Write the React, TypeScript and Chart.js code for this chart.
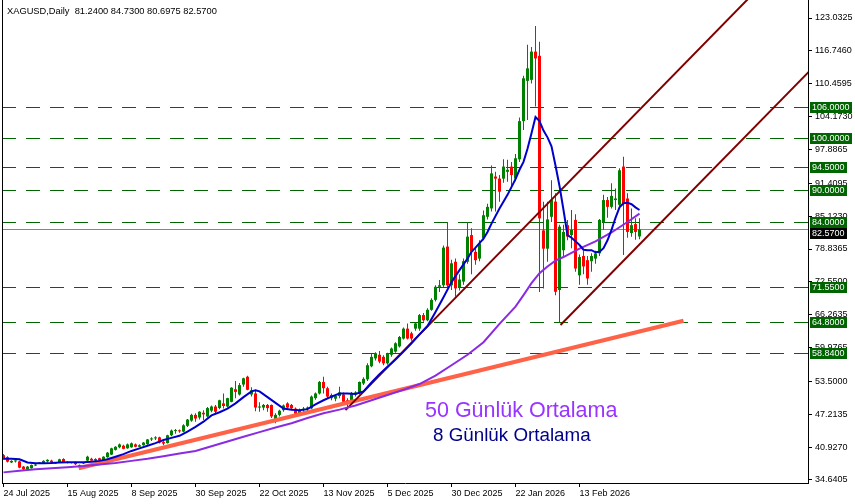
import { useEffect, useRef } from 'react';
import { Chart, registerables } from 'chart.js';

Chart.register(...registerables);

// ---------- data ----------
const symbolName = 'XAGUSD';
const timeframeName = 'Daily';

const opens = [
  39.4, 39.0, 38.0, 38.2, 38.2, 37.2, 36.6, 36.9, 37.4, 37.8,
  37.8, 38.2, 38.35, 37.8, 37.96, 38.65, 37.9, 37.9, 38.1, 37.2,
  37.8, 38.35, 38.7, 38.35, 38.8, 38.47, 39.0, 39.5, 40.4, 40.9,
  41.2, 40.7, 40.9, 41.45, 41.0, 41.3, 41.5, 42.4, 42.6, 42.8,
  41.9, 41.7, 43.2, 44.0, 44.1, 43.9, 45.0, 46.0, 47.1, 46.6,
  47.5, 46.8, 47.9, 48.7, 48.4, 49.3, 48.7, 49.6, 52.0, 51.0,
  52.9, 54.4, 51.0, 51.2, 48.5, 48.5, 49.0, 49.0, 46.2, 47.1,
  48.0, 49.3, 49.0, 48.3, 47.3, 48.0, 48.2, 48.35, 50.3, 51.2,
  53.4, 52.2, 50.3, 50.2, 50.7, 51.0, 49.9, 49.6, 51.0, 51.2,
  53.1, 53.9, 56.4, 57.9, 58.6, 58.2, 56.95, 58.6, 59.2, 60.2,
  61.7, 63.6, 62.7, 63.6, 63.6, 66.2, 65.2, 67.2, 69.1, 71.6,
  71.9, 79.3, 71.9, 76.4, 71.5, 72.6, 76.4, 81.5, 78.3, 77.0,
  80.9, 85.0, 86.6, 92.7, 92.3, 92.3, 93.6, 94.6, 92.3, 96.0,
  103.3, 111.0, 111.2, 116.6, 115.8, 82.4, 78.9, 85.0, 87.9, 71.0,
  78.6, 83.4, 81.5, 84.4, 73.8, 77.5, 76.7, 76.5, 77.0, 78.0,
  84.0, 88.2, 86.9, 88.2, 87.3, 94.6, 88.5, 81.9, 83.6, 81.24,
];
const highs = [
  39.6, 39.2, 38.4, 38.4, 38.3, 37.3, 37.3, 37.6, 37.8, 38.1,
  38.4, 38.6, 38.5, 38.1, 38.7, 38.8, 38.2, 38.1, 38.2, 37.6,
  38.1, 39.3, 38.9, 38.8, 38.9, 39.2, 40.0, 40.8, 41.1, 41.6,
  41.4, 41.6, 41.8, 41.6, 41.5, 41.9, 42.5, 42.8, 43.0, 42.9,
  42.2, 43.3, 44.3, 44.4, 44.3, 45.3, 46.3, 47.3, 47.4, 47.8,
  48.0, 48.6, 48.9, 49.0, 50.0, 51.2, 50.4, 52.4, 53.6, 53.2,
  54.2, 54.6, 52.4, 51.9, 49.5, 49.2, 49.2, 49.1, 47.4, 48.1,
  49.1, 49.5, 49.2, 48.5, 48.3, 48.6, 48.7, 50.8, 51.4, 53.6,
  54.4, 52.5, 51.2, 50.9, 52.5, 51.4, 50.3, 51.5, 51.6, 53.5,
  54.3, 57.0, 58.8, 59.1, 59.3, 58.5, 59.0, 60.0, 61.0, 62.2,
  63.8, 64.6, 63.0, 64.8, 66.4, 66.6, 67.5, 69.4, 71.9, 72.9,
  79.5, 84.0, 76.8, 77.0, 74.0, 77.0, 84.0, 82.8, 79.0, 80.5,
  86.2, 87.5, 94.8, 93.6, 93.0, 96.0, 95.9, 95.5, 97.0, 104.0,
  112.0, 117.9, 117.5, 121.5, 118.5, 87.9, 87.9, 92.0, 89.5, 83.5,
  83.5, 84.4, 86.3, 85.5, 77.8, 78.5, 77.5, 78.0, 78.5, 84.6,
  89.2, 88.8, 91.4, 90.4, 94.3, 96.5, 89.5, 86.6, 84.7, 84.73,
];
const lows = [
  38.5, 38.0, 37.9, 38.0, 36.9, 36.5, 36.4, 36.8, 37.3, 37.7,
  37.7, 38.0, 37.9, 37.7, 37.9, 37.9, 37.8, 37.8, 37.5, 37.1,
  37.7, 38.2, 38.3, 38.2, 38.3, 38.4, 38.9, 39.4, 40.3, 40.7,
  40.5, 40.6, 40.8, 40.9, 40.9, 41.2, 41.4, 42.1, 42.3, 41.6,
  41.3, 41.6, 43.0, 43.5, 43.7, 43.8, 44.8, 45.8, 45.8, 46.2,
  46.1, 46.6, 47.6, 47.4, 48.2, 48.3, 48.5, 49.5, 50.3, 50.8,
  52.5, 51.8, 50.6, 47.8, 47.7, 48.0, 47.7, 46.5, 45.5, 46.8,
  47.7, 48.3, 48.1, 46.9, 47.0, 47.6, 47.8, 48.2, 50.0, 51.0,
  51.2, 50.2, 49.9, 49.7, 50.3, 49.4, 48.6, 49.4, 50.6, 51.0,
  52.8, 53.6, 56.2, 57.5, 57.0, 56.6, 56.7, 58.2, 59.0, 60.0,
  61.5, 61.5, 61.3, 63.2, 63.2, 64.9, 65.0, 67.0, 68.8, 70.6,
  71.5, 71.5, 71.0, 69.7, 70.9, 72.0, 76.0, 74.0, 75.8, 76.5,
  80.5, 84.5, 86.0, 86.0, 87.9, 91.5, 91.7, 90.4, 91.8, 95.5,
  101.6, 103.5, 110.5, 106.1, 70.6, 71.3, 76.4, 84.0, 70.0, 64.8,
  77.5, 80.5, 79.0, 74.5, 72.0, 74.0, 72.0, 74.5, 76.0, 77.5,
  82.5, 84.8, 86.6, 86.3, 87.0, 77.7, 81.0, 81.2, 80.6, 80.6975,
];
const closes = [
  38.7, 38.15, 38.3, 38.3, 37.0, 36.7, 37.2, 37.5, 37.6, 38.0,
  38.3, 38.5, 37.96, 38.0, 38.6, 38.0, 38.1, 38.0, 37.65, 37.5,
  37.95, 39.1, 38.35, 38.65, 38.35, 39.1, 39.87, 40.7, 41.0, 41.45,
  40.6, 41.45, 41.66, 41.0, 41.3, 41.8, 42.4, 42.6, 42.8, 41.8,
  41.6, 43.2, 44.1, 44.1, 43.95, 45.1, 46.2, 47.1, 46.4, 47.7,
  47.2, 48.4, 48.7, 47.7, 49.9, 48.8, 50.3, 52.3, 51.5, 52.8,
  54.1, 51.9, 51.8, 48.5, 48.7, 49.0, 48.4, 46.8, 47.1, 47.9,
  48.9, 48.5, 48.35, 47.3, 48.0, 48.3, 48.5, 50.6, 51.2, 53.4,
  52.2, 50.6, 50.9, 50.7, 51.4, 49.6, 49.3, 51.3, 51.4, 53.4,
  54.0, 56.6, 58.2, 58.9, 57.3, 56.95, 58.9, 59.8, 60.8, 62.0,
  63.6, 61.7, 61.7, 64.6, 66.2, 65.2, 67.2, 69.1, 71.6, 71.9,
  79.1, 71.9, 76.1, 71.3, 73.0, 76.5, 81.2, 78.3, 76.7, 79.9,
  85.3, 86.9, 93.3, 92.3, 89.8, 94.6, 94.0, 93.0, 96.2, 103.3,
  111.5, 113.4, 116.6, 115.3, 84.7, 78.9, 84.5, 88.2, 70.65, 83.1,
  82.1, 81.2, 82.5, 75.1, 77.3, 75.5, 73.2, 77.5, 78.0, 84.4,
  88.2, 86.9, 89.0, 88.5, 93.9, 87.5, 82.1, 83.4, 82.1, 82.57,
];

// 8-day moving average (blue)
const ma8Idx = [0, 2, 4, 6, 8, 10, 12, 14, 16, 18, 20, 22, 24, 26, 28, 30, 32, 34, 36, 38,
  40, 42, 44, 46, 48, 50, 52, 54, 56, 58, 60, 62, 63, 64, 66, 68, 70, 72, 74, 76,
  78, 80, 82, 84, 86, 88, 90, 92, 94, 96, 98, 100, 102, 104, 106, 108, 110, 112, 114, 116,
  117, 118, 120, 121, 122, 124, 126, 128, 129, 130, 131, 132, 133, 134, 135, 136, 137, 138, 139, 140,
  141, 142, 143, 144, 145, 146, 147, 148, 149, 150, 151, 152, 153, 154, 155, 156, 157, 158, 159];
const ma8Values = [38.7, 38.7, 38.6, 38.0, 37.85, 37.84, 37.9, 38.0, 38.03, 38.05, 38.05, 38.15, 38.3, 38.6, 39.1, 39.6, 40.2, 40.7, 41.2, 41.7,
  42.3, 42.7, 43.1, 43.9, 44.8, 45.8, 47.0, 47.6, 48.3, 49.3, 50.5, 51.6, 51.8, 51.6, 50.5, 49.4, 48.3, 48.1, 48.0, 48.2,
  49.1, 49.9, 50.6, 51.2, 51.2, 51.1, 51.6, 53.3, 54.9, 56.3, 57.7, 59.2, 60.8, 62.5, 64.1, 66.8, 69.6, 72.5, 74.8, 77.0,
  78.3, 79.1, 80.8, 82.1, 83.7, 86.6, 89.2, 92.2, 94.0, 95.5, 98.0, 101.0, 104.1, 103.3, 101.5, 100.2, 98.5, 94.8, 90.9, 86.3,
  81.5, 81.0, 80.3, 79.6, 78.7, 78.6, 78.6, 78.2, 78.3, 79.0, 80.5, 82.5, 84.8, 86.8, 87.6, 87.7, 87.4, 86.8, 86.3];

// 50-day moving average (purple)
const ma50Idx = [0, 4, 8, 12, 16, 20, 24, 28, 32, 36, 40, 44, 48, 52, 56, 60, 64, 68, 72, 76,
  80, 84, 88, 92, 96, 100, 104, 108, 112, 116, 120, 124, 128, 130, 132, 134, 136, 138, 140, 144,
  148, 152, 156, 159];
const ma50Values = [36.1, 36.4, 36.7, 36.9, 37.1, 37.3, 37.6, 37.9, 38.3, 38.7, 39.2, 39.7, 40.2, 41.1, 42.0, 42.9, 43.8, 44.7, 45.5, 46.5,
  47.4, 48.1, 48.9, 49.9, 50.9, 51.9, 53.0, 54.6, 56.6, 58.6, 61.0, 64.5, 67.8, 70.0, 72.3, 74.2, 75.5, 76.6, 77.3, 78.9,
  80.3, 82.0, 84.0, 85.6];

const xTickIdx = [0, 16, 32, 48, 64, 80, 96, 112, 128, 144];
const xTickLabels = ['24 Jul 2025', '15 Aug 2025', '8 Sep 2025', '30 Sep 2025', '22 Oct 2025',
  '13 Nov 2025', '5 Dec 2025', '30 Dec 2025', '22 Jan 2026', '13 Feb 2026'];
const yTickValues = [34.6405, 40.927, 47.2135, 53.5, 59.9765, 66.2635, 72.55, 78.8365, 85.123,
  91.4095, 97.8865, 104.173, 110.4595, 116.746, 123.0325];

const levelValues = [106, 100, 94.5, 90, 84, 71.55, 64.8, 58.84];
const currentPrice = 82.57;

const tomatoLineX = [18.8, 170];
const tomatoLineY = [36.9, 65.1];
const channelUpperX = [85.5, 190];
const channelUpperY = [48.0, 129.7];
const channelLowerX = [139.25, 215];
const channelLowerY = [64.3, 123.4];

const ma50Label = '50 Günlük Ortalama';
const ma8Label = '8 Günlük Ortalama';

// ---------- styles ----------
const X_MIN = -0.375;
const X_MAX = 201.125;
const Y_MIN = 34.0665;
const Y_MAX = 126.4765;
const FONT = '"Liberation Sans", Arial, sans-serif';
const BULL = '#008000';
const BEAR = '#ff0000';
const LEVEL_COLOR = '#006400';
const PRICE_LINE = '#778899';
const TOMATO = '#ff6347';
const MAROON = '#800000';
const MA50_COLOR = '#8a2be2';
const MA8_COLOR = '#0000cd';
const MA50_TEXT = '#9933ff';
const MA8_TEXT = '#00008b';

const overlayPlugin = {
  id: 'mtOverlay',
  afterDraw(chart: any) {
    const { ctx, chartArea, scales } = chart;
    const ys = scales.y;
    const n = closes.length;
    ctx.save();
    ctx.strokeStyle = '#000';
    ctx.lineWidth = 1;
    ctx.beginPath();
    ctx.moveTo(chartArea.left + 0.5, chartArea.top);
    ctx.lineTo(chartArea.left + 0.5, chartArea.bottom + 1);
    ctx.stroke();

    const title = `${symbolName},${timeframeName}  ` +
      [opens[n - 1], highs[n - 1], lows[n - 1], closes[n - 1]].map((v) => v.toFixed(4)).join(' ');
    ctx.fillStyle = '#000';
    ctx.font = `9.3px ${FONT}`;
    ctx.textAlign = 'left';
    ctx.textBaseline = 'alphabetic';
    ctx.fillText(title, 7, 14);

    ctx.font = `21.5px ${FONT}`;
    ctx.fillStyle = MA50_TEXT;
    ctx.fillText(ma50Label, 425, 416.5);
    ctx.font = `18.8px ${FONT}`;
    ctx.fillStyle = MA8_TEXT;
    ctx.fillText(ma8Label, 433, 441);

    const boxes = levelValues
      .map((v) => ({ v, bg: LEVEL_COLOR }))
      .concat([{ v: currentPrice, bg: '#000' }])
      .map((b) => ({ ...b, yc: ys.getPixelForValue(b.v) }))
      .sort((a, b) => a.yc - b.yc);
    ctx.font = `9px ${FONT}`;
    ctx.textBaseline = 'middle';
    let prevBottom = -Infinity;
    const bh = 11;
    for (const b of boxes) {
      let top = Math.round(b.yc - bh / 2);
      if (top < prevBottom) top = prevBottom;
      const label = b.v.toFixed(4);
      const w = Math.ceil(ctx.measureText(label).width) + 4;
      const x0 = chartArea.right + 2;
      ctx.fillStyle = b.bg;
      ctx.fillRect(x0, top, w, bh);
      ctx.fillStyle = '#fff';
      ctx.fillText(label, x0 + 2, top + bh / 2 + 0.5);
      prevBottom = top + bh;
    }
    ctx.restore();
  },
};

export default function App() {
  const canvasRef = useRef<HTMLCanvasElement | null>(null);

  useEffect(() => {
    const canvas = canvasRef.current;
    if (!canvas) return;
    const idx = closes.map((_, i) => i);
    const candleColors = idx.map((i) => (closes[i] >= opens[i] ? BULL : BEAR));

    const line = (xs: number[], ys: number[], color: string, width: number, order: number) => ({
      type: 'line',
      data: xs.map((x, k) => ({ x, y: ys[k] })),
      borderColor: color,
      backgroundColor: color,
      borderWidth: width,
      borderCapStyle: 'butt',
      pointRadius: 0,
      pointHoverRadius: 0,
      tension: 0,
      fill: false,
      order,
    });

    const datasets: any[] = [];
    datasets.push({
      type: 'bar',
      data: idx.map((i) => ({ x: i, y: [lows[i], highs[i]] })),
      backgroundColor: candleColors,
      borderWidth: 0,
      barPercentage: 1,
      categoryPercentage: 1,
      barThickness: 1,
      maxBarThickness: 1,
      grouped: false,
      inflateAmount: 0,
      order: 8,
    });
    datasets.push({
      type: 'bar',
      data: idx.map((i) => ({ x: i, y: [opens[i], closes[i]] })),
      backgroundColor: candleColors,
      borderWidth: 0,
      barPercentage: 1,
      categoryPercentage: 1,
      barThickness: 3,
      maxBarThickness: 3,
      minBarLength: 1,
      grouped: false,
      inflateAmount: 0,
      order: 7,
    });
    datasets.push(line(tomatoLineX, tomatoLineY, TOMATO, 4, 6));
    datasets.push(line(channelUpperX, channelUpperY, MAROON, 2, 5));
    datasets.push(line(channelLowerX, channelLowerY, MAROON, 2, 5));
    datasets.push(line(ma50Idx, ma50Values, MA50_COLOR, 2, 4));
    datasets.push(line(ma8Idx, ma8Values, MA8_COLOR, 2, 3));

    const tickFont = { family: FONT, size: 9 };

    const chart = new Chart(canvas, {
      type: 'bar',
      data: { datasets },
      options: {
        responsive: false,
        animation: false,
        events: [],
        layout: { padding: { left: 2, top: 0, right: 0, bottom: 0 } },
        plugins: { legend: { display: false }, tooltip: { enabled: false } },
        scales: {
          x: {
            type: 'linear',
            min: X_MIN,
            max: X_MAX,
            offset: false,
            bounds: 'data',
            grid: { display: true, drawOnChartArea: false, drawTicks: true, tickLength: 4, color: '#000', offset: false },
            border: { display: true, color: '#000', width: 1 },
            ticks: {
              autoSkip: false,
              maxRotation: 0,
              minRotation: 0,
              align: 'start',
              padding: 1,
              color: '#000',
              font: tickFont,
              callback: (v: any) => {
                const k = xTickIdx.indexOf(Number(v));
                return k >= 0 ? xTickLabels[k] : '';
              },
            },
            afterBuildTicks: (s: any) => {
              s.ticks = xTickIdx.map((value) => ({ value }));
            },
            afterFit: (s: any) => {
              s.height = 21;
              s.paddingLeft = 0;
              s.paddingRight = 0;
            },
          },
          y: {
            type: 'linear',
            position: 'right',
            min: Y_MIN,
            max: Y_MAX,
            bounds: 'data',
            grid: { display: true, drawOnChartArea: false, drawTicks: true, tickLength: 4, color: '#000' },
            border: { display: true, color: '#000', width: 1 },
            ticks: {
              autoSkip: false,
              padding: 3,
              color: '#000',
              font: tickFont,
              callback: (v: any) => Number(v).toFixed(4),
            },
            afterBuildTicks: (s: any) => {
              s.ticks = yTickValues.map((value) => ({ value }));
            },
            afterFit: (s: any) => {
              s.width = 47;
              s.paddingTop = 0;
              s.paddingBottom = 0;
            },
          },
          yLevels: {
            type: 'linear',
            position: 'left',
            min: Y_MIN,
            max: Y_MAX,
            bounds: 'data',
            grid: { display: true, drawOnChartArea: true, drawTicks: false, color: LEVEL_COLOR, lineWidth: 1 },
            border: { display: false, dash: [14, 10] },
            ticks: { display: false },
            afterBuildTicks: (s: any) => {
              s.ticks = levelValues.map((value) => ({ value }));
            },
            afterFit: (s: any) => {
              s.width = 0;
              s.paddingTop = 0;
              s.paddingBottom = 0;
            },
          },
          yPrice: {
            type: 'linear',
            position: 'left',
            min: Y_MIN,
            max: Y_MAX,
            bounds: 'data',
            grid: { display: true, drawOnChartArea: true, drawTicks: false, color: PRICE_LINE, lineWidth: 1 },
            border: { display: false },
            ticks: { display: false },
            afterBuildTicks: (s: any) => {
              s.ticks = [currentPrice].map((value) => ({ value }));
            },
            afterFit: (s: any) => {
              s.width = 0;
              s.paddingTop = 0;
              s.paddingBottom = 0;
            },
          },
        },
      } as any,
      plugins: [overlayPlugin],
    } as any);

    return () => chart.destroy();
  }, []);

  return (
    <div style={{ position: 'fixed', left: 0, top: 0, width: 855, height: 504, background: '#fff' }}>
      <canvas ref={canvasRef} width={855} height={504} style={{ display: 'block', width: 855, height: 504 }} />
    </div>
  );
}
